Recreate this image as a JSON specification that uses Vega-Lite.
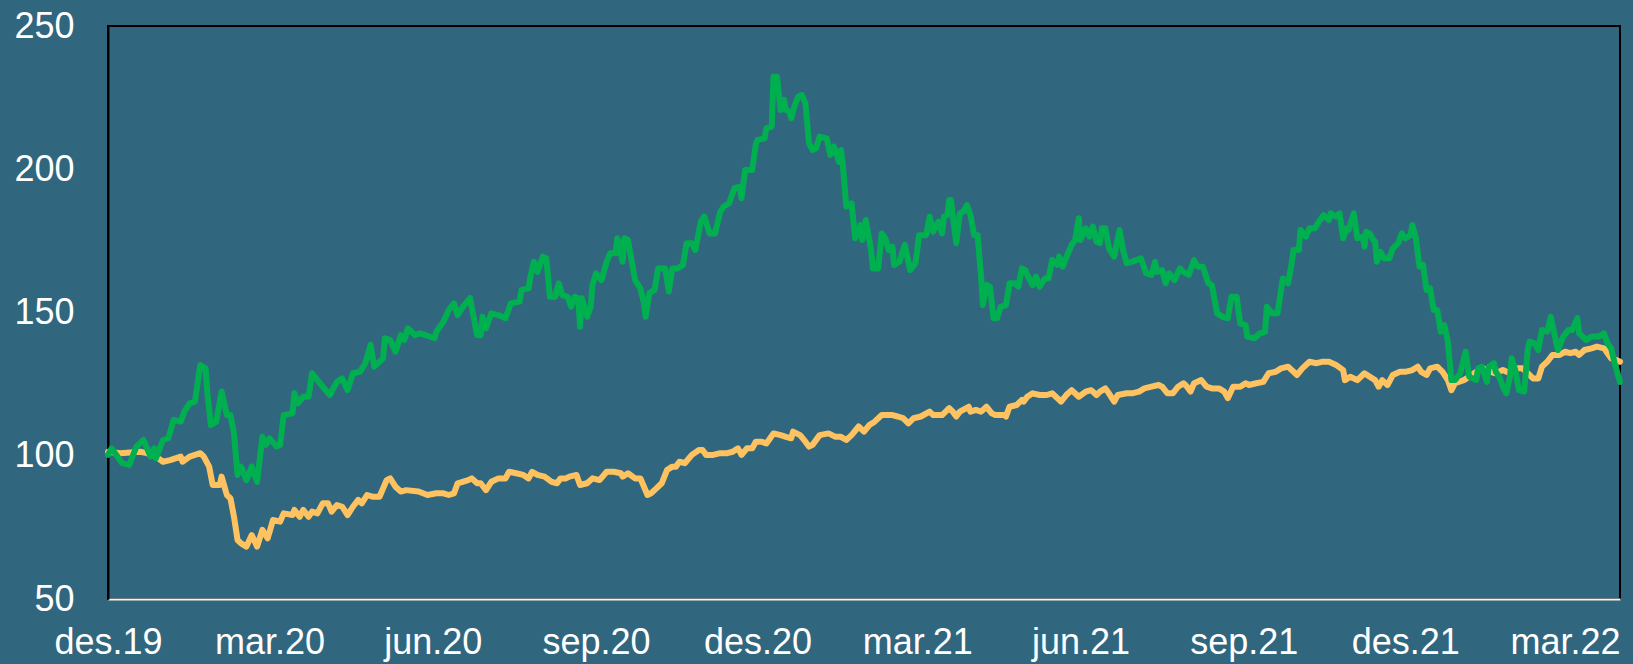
{
"$schema": "https://vega.github.io/schema/vega-lite/v6.json",
"width": 1512, "height": 573,
"autosize": {"type": "none"},
"padding": {"left": 108, "top": 26, "right": 13, "bottom": 65},
"background": "#31667F",
"config": {
  "view": {"stroke": "#000000", "strokeWidth": 2},
  "axis": {"labelFont": "Liberation Sans", "labelFontSize": 36, "labelColor": "#FFFFFF", "grid": false, "ticks": false, "title": null}
},
"datasets": {
"green": [
{"date":"2019-12-01","value":100.3},{"date":"2019-12-03","value":102.6},{"date":"2019-12-09","value":97.4},{"date":"2019-12-13","value":96.8},{"date":"2019-12-17","value":103.2},{"date":"2019-12-21","value":105.5},{"date":"2019-12-25","value":99.7},{"date":"2019-12-27","value":102.6},{"date":"2019-12-28","value":99.1},
{"date":"2020-01-01","value":105.5},{"date":"2020-01-04","value":106.1},{"date":"2020-01-07","value":112.5},{"date":"2020-01-11","value":111.9},{"date":"2020-01-13","value":115.4},{"date":"2020-01-16","value":118.3},{"date":"2020-01-19","value":118.9},{"date":"2020-01-22","value":131.7},{"date":"2020-01-25","value":130.5},{"date":"2020-01-26","value":121.8},{"date":"2020-01-28","value":110.7},{"date":"2020-01-31","value":111.9},
{"date":"2020-02-03","value":122.4},{"date":"2020-02-06","value":114.2},{"date":"2020-02-08","value":114.2},{"date":"2020-02-10","value":107.8},{"date":"2020-02-12","value":93.3},{"date":"2020-02-14","value":96.2},{"date":"2020-02-17","value":91.5},{"date":"2020-02-20","value":96.2},{"date":"2020-02-23","value":90.9},{"date":"2020-02-26","value":106.6},{"date":"2020-02-28","value":103.8},
{"date":"2020-03-01","value":106.1},{"date":"2020-03-05","value":103.2},{"date":"2020-03-07","value":103.8},{"date":"2020-03-09","value":114.2},{"date":"2020-03-14","value":114.8},{"date":"2020-03-15","value":121.8},{"date":"2020-03-17","value":118.3},{"date":"2020-03-20","value":120.6},{"date":"2020-03-23","value":120.6},{"date":"2020-03-25","value":128.8},{"date":"2020-03-28","value":126.4},{"date":"2020-03-31","value":124.1},
{"date":"2020-04-04","value":121.2},{"date":"2020-04-08","value":125.8},{"date":"2020-04-11","value":127.0},{"date":"2020-04-14","value":122.9},{"date":"2020-04-17","value":128.8},{"date":"2020-04-21","value":129.3},{"date":"2020-04-24","value":132.3},{"date":"2020-04-27","value":138.7},{"date":"2020-04-29","value":131.1},
{"date":"2020-05-04","value":134.0},{"date":"2020-05-05","value":141.0},{"date":"2020-05-08","value":140.4},{"date":"2020-05-11","value":136.3},{"date":"2020-05-14","value":142.1},{"date":"2020-05-16","value":140.4},{"date":"2020-05-18","value":144.5},{"date":"2020-05-22","value":142.1},{"date":"2020-05-25","value":142.7},
{"date":"2020-06-02","value":141.0},{"date":"2020-06-03","value":143.3},{"date":"2020-06-07","value":146.8},{"date":"2020-06-10","value":150.9},{"date":"2020-06-13","value":153.2},{"date":"2020-06-15","value":149.1},{"date":"2020-06-18","value":152.0},{"date":"2020-06-22","value":155.0},{"date":"2020-06-26","value":142.1},{"date":"2020-06-28","value":142.1},{"date":"2020-06-29","value":148.5},
{"date":"2020-07-01","value":144.5},{"date":"2020-07-04","value":149.7},{"date":"2020-07-08","value":149.1},{"date":"2020-07-12","value":148.0},{"date":"2020-07-15","value":153.2},{"date":"2020-07-20","value":153.8},{"date":"2020-07-21","value":157.9},{"date":"2020-07-25","value":158.4},{"date":"2020-07-26","value":162.5},{"date":"2020-07-28","value":167.7},{"date":"2020-07-30","value":164.2},
{"date":"2020-08-02","value":169.5},{"date":"2020-08-04","value":168.9},{"date":"2020-08-06","value":155.5},{"date":"2020-08-09","value":155.5},{"date":"2020-08-11","value":160.2},{"date":"2020-08-13","value":156.1},{"date":"2020-08-16","value":155.5},{"date":"2020-08-18","value":152.0},{"date":"2020-08-20","value":155.5},{"date":"2020-08-22","value":155.0},{"date":"2020-08-23","value":145.0},{"date":"2020-08-24","value":155.0},{"date":"2020-08-27","value":148.5},{"date":"2020-08-29","value":152.0},{"date":"2020-08-30","value":159.6},
{"date":"2020-09-01","value":163.7},{"date":"2020-09-04","value":161.3},{"date":"2020-09-07","value":167.7},{"date":"2020-09-09","value":170.7},{"date":"2020-09-12","value":170.7},{"date":"2020-09-13","value":175.9},{"date":"2020-09-16","value":167.7},{"date":"2020-09-17","value":175.9},{"date":"2020-09-19","value":175.3},{"date":"2020-09-23","value":161.3},{"date":"2020-09-26","value":158.4},{"date":"2020-09-28","value":153.2},{"date":"2020-09-29","value":148.5},
{"date":"2020-10-01","value":156.7},{"date":"2020-10-04","value":157.9},{"date":"2020-10-06","value":165.4},{"date":"2020-10-10","value":165.4},{"date":"2020-10-12","value":157.3},{"date":"2020-10-14","value":165.4},{"date":"2020-10-17","value":165.4},{"date":"2020-10-20","value":166.6},{"date":"2020-10-22","value":174.2},{"date":"2020-10-25","value":174.2},{"date":"2020-10-27","value":171.8},{"date":"2020-10-30","value":181.7},
{"date":"2020-11-01","value":183.5},{"date":"2020-11-04","value":177.6},{"date":"2020-11-07","value":177.6},{"date":"2020-11-10","value":185.2},{"date":"2020-11-12","value":187.0},{"date":"2020-11-15","value":188.1},{"date":"2020-11-18","value":193.4},{"date":"2020-11-21","value":193.9},{"date":"2020-11-22","value":189.9},{"date":"2020-11-24","value":199.7},{"date":"2020-11-28","value":199.7},{"date":"2020-11-30","value":208.5},
{"date":"2020-12-01","value":210.2},{"date":"2020-12-05","value":210.8},{"date":"2020-12-06","value":214.3},{"date":"2020-12-09","value":214.9},{"date":"2020-12-10","value":232.3},{"date":"2020-12-12","value":232.3},{"date":"2020-12-14","value":220.7},{"date":"2020-12-16","value":224.2},{"date":"2020-12-17","value":220.7},{"date":"2020-12-19","value":220.1},{"date":"2020-12-20","value":217.8},{"date":"2020-12-22","value":222.4},{"date":"2020-12-24","value":225.3},{"date":"2020-12-26","value":225.9},{"date":"2020-12-28","value":223.0},{"date":"2020-12-30","value":209.1},
{"date":"2021-01-01","value":206.7},{"date":"2021-01-03","value":207.3},{"date":"2021-01-05","value":211.4},{"date":"2021-01-09","value":210.8},{"date":"2021-01-11","value":205.0},{"date":"2021-01-13","value":207.9},{"date":"2021-01-16","value":202.6},{"date":"2021-01-17","value":206.7},{"date":"2021-01-18","value":202.1},{"date":"2021-01-20","value":187.0},{"date":"2021-01-23","value":188.1},{"date":"2021-01-25","value":175.9},{"date":"2021-01-28","value":180.5},{"date":"2021-01-29","value":175.3},{"date":"2021-01-31","value":182.3},
{"date":"2021-02-03","value":171.8},{"date":"2021-02-04","value":165.4},{"date":"2021-02-07","value":165.4},{"date":"2021-02-09","value":177.6},{"date":"2021-02-11","value":175.9},{"date":"2021-02-13","value":171.8},{"date":"2021-02-15","value":173.0},{"date":"2021-02-16","value":166.6},{"date":"2021-02-19","value":167.7},{"date":"2021-02-22","value":173.6},{"date":"2021-02-25","value":164.8},{"date":"2021-02-28","value":167.2},
{"date":"2021-03-01","value":171.8},{"date":"2021-03-02","value":177.0},{"date":"2021-03-06","value":177.0},{"date":"2021-03-08","value":183.4},{"date":"2021-03-10","value":178.2},{"date":"2021-03-13","value":181.7},{"date":"2021-03-15","value":177.6},{"date":"2021-03-16","value":183.4},{"date":"2021-03-18","value":184.0},{"date":"2021-03-19","value":189.3},{"date":"2021-03-20","value":189.3},{"date":"2021-03-21","value":184.0},{"date":"2021-03-23","value":174.2},{"date":"2021-03-25","value":184.6},{"date":"2021-03-27","value":185.2},{"date":"2021-03-29","value":187.5},{"date":"2021-03-31","value":184.0},
{"date":"2021-04-02","value":177.0},{"date":"2021-04-04","value":177.0},{"date":"2021-04-06","value":162.5},{"date":"2021-04-07","value":152.6},{"date":"2021-04-09","value":159.6},{"date":"2021-04-11","value":159.0},{"date":"2021-04-13","value":148.0},{"date":"2021-04-15","value":148.0},{"date":"2021-04-17","value":152.0},{"date":"2021-04-20","value":152.6},{"date":"2021-04-22","value":160.2},{"date":"2021-04-25","value":160.2},{"date":"2021-04-27","value":159.0},{"date":"2021-04-29","value":165.4},
{"date":"2021-05-01","value":164.8},{"date":"2021-05-02","value":163.1},{"date":"2021-05-05","value":159.6},{"date":"2021-05-07","value":162.5},{"date":"2021-05-09","value":159.0},{"date":"2021-05-12","value":161.9},{"date":"2021-05-14","value":161.9},{"date":"2021-05-16","value":168.3},{"date":"2021-05-19","value":166.6},{"date":"2021-05-20","value":169.5},{"date":"2021-05-22","value":166.0},{"date":"2021-05-25","value":170.7},{"date":"2021-05-27","value":173.6},{"date":"2021-05-29","value":175.3},{"date":"2021-05-31","value":182.9},
{"date":"2021-06-01","value":175.3},{"date":"2021-06-04","value":179.4},{"date":"2021-06-06","value":176.5},{"date":"2021-06-08","value":180.0},{"date":"2021-06-10","value":174.7},{"date":"2021-06-12","value":174.2},{"date":"2021-06-13","value":179.4},{"date":"2021-06-15","value":179.4},{"date":"2021-06-17","value":172.4},{"date":"2021-06-20","value":169.5},{"date":"2021-06-23","value":178.8},{"date":"2021-06-25","value":171.8},{"date":"2021-06-27","value":167.2},{"date":"2021-06-30","value":167.7},
{"date":"2021-07-05","value":168.9},{"date":"2021-07-08","value":163.7},{"date":"2021-07-11","value":163.1},{"date":"2021-07-13","value":167.7},{"date":"2021-07-14","value":164.2},{"date":"2021-07-17","value":164.8},{"date":"2021-07-19","value":160.2},{"date":"2021-07-21","value":163.7},{"date":"2021-07-24","value":161.3},{"date":"2021-07-27","value":165.4},{"date":"2021-07-29","value":164.2},
{"date":"2021-08-01","value":163.1},{"date":"2021-08-04","value":168.3},{"date":"2021-08-06","value":166.0},{"date":"2021-08-09","value":166.0},{"date":"2021-08-12","value":160.2},{"date":"2021-08-14","value":159.6},{"date":"2021-08-17","value":149.7},{"date":"2021-08-20","value":148.5},{"date":"2021-08-23","value":148.0},{"date":"2021-08-25","value":155.5},{"date":"2021-08-28","value":155.5},{"date":"2021-08-30","value":146.2},
{"date":"2021-09-02","value":145.6},{"date":"2021-09-03","value":141.6},{"date":"2021-09-07","value":141.0},{"date":"2021-09-10","value":142.7},{"date":"2021-09-13","value":143.3},{"date":"2021-09-14","value":152.0},{"date":"2021-09-17","value":149.7},{"date":"2021-09-20","value":149.7},{"date":"2021-09-23","value":161.9},{"date":"2021-09-26","value":160.2},{"date":"2021-09-28","value":167.2},{"date":"2021-09-29","value":171.8},
{"date":"2021-10-02","value":171.8},{"date":"2021-10-03","value":178.8},{"date":"2021-10-06","value":176.5},{"date":"2021-10-08","value":179.4},{"date":"2021-10-11","value":179.4},{"date":"2021-10-14","value":182.3},{"date":"2021-10-16","value":184.0},{"date":"2021-10-19","value":182.3},{"date":"2021-10-20","value":184.6},{"date":"2021-10-23","value":183.5},{"date":"2021-10-25","value":184.6},{"date":"2021-10-27","value":175.9},{"date":"2021-10-29","value":179.4},{"date":"2021-10-30","value":178.8},
{"date":"2021-11-02","value":184.6},{"date":"2021-11-04","value":175.9},{"date":"2021-11-07","value":176.5},{"date":"2021-11-08","value":173.0},{"date":"2021-11-09","value":178.2},{"date":"2021-11-11","value":177.6},{"date":"2021-11-13","value":175.3},{"date":"2021-11-14","value":174.7},{"date":"2021-11-15","value":167.7},{"date":"2021-11-17","value":171.2},{"date":"2021-11-19","value":168.9},{"date":"2021-11-22","value":168.9},{"date":"2021-11-24","value":172.4},{"date":"2021-11-27","value":174.2},{"date":"2021-11-29","value":177.6},
{"date":"2021-12-01","value":175.9},{"date":"2021-12-04","value":177.0},{"date":"2021-12-05","value":180.5},{"date":"2021-12-07","value":175.9},{"date":"2021-12-09","value":166.0},{"date":"2021-12-11","value":166.6},{"date":"2021-12-13","value":157.9},{"date":"2021-12-15","value":158.4},{"date":"2021-12-17","value":150.9},{"date":"2021-12-19","value":150.9},{"date":"2021-12-21","value":143.3},{"date":"2021-12-23","value":145.6},{"date":"2021-12-25","value":139.8},{"date":"2021-12-26","value":133.4},{"date":"2021-12-27","value":126.4},{"date":"2021-12-29","value":126.4},
{"date":"2022-01-01","value":128.8},{"date":"2022-01-04","value":136.3},{"date":"2022-01-06","value":127.6},{"date":"2022-01-10","value":126.4},{"date":"2022-01-11","value":130.5},{"date":"2022-01-13","value":131.1},{"date":"2022-01-15","value":127.6},{"date":"2022-01-16","value":125.8},{"date":"2022-01-17","value":131.1},{"date":"2022-01-20","value":132.3},{"date":"2022-01-21","value":129.3},{"date":"2022-01-23","value":127.6},{"date":"2022-01-25","value":124.1},{"date":"2022-01-27","value":121.8},{"date":"2022-01-29","value":127.6},{"date":"2022-01-30","value":134.0},
{"date":"2022-02-01","value":129.9},{"date":"2022-02-03","value":122.9},{"date":"2022-02-06","value":122.4},{"date":"2022-02-08","value":136.9},{"date":"2022-02-09","value":139.8},{"date":"2022-02-12","value":139.2},{"date":"2022-02-14","value":136.9},{"date":"2022-02-16","value":143.9},{"date":"2022-02-19","value":143.3},{"date":"2022-02-21","value":148.5},{"date":"2022-02-23","value":142.7},{"date":"2022-02-25","value":136.9},{"date":"2022-02-28","value":141.6},
{"date":"2022-03-03","value":143.9},{"date":"2022-03-05","value":143.9},{"date":"2022-03-08","value":148.0},{"date":"2022-03-09","value":142.7},{"date":"2022-03-13","value":140.4},{"date":"2022-03-16","value":141.6},{"date":"2022-03-20","value":141.6},{"date":"2022-03-23","value":142.7},{"date":"2022-03-25","value":139.2},{"date":"2022-03-27","value":137.5},{"date":"2022-03-29","value":132.3},{"date":"2022-04-01","value":125.8}
],
"yellow": [
{"date":"2019-12-01","value":101.4},{"date":"2019-12-08","value":100.9},{"date":"2019-12-19","value":101.4},{"date":"2019-12-23","value":100.9},{"date":"2019-12-28","value":99.7},
{"date":"2020-01-01","value":97.9},{"date":"2020-01-05","value":98.5},{"date":"2020-01-11","value":99.7},{"date":"2020-01-12","value":97.9},{"date":"2020-01-16","value":99.7},{"date":"2020-01-22","value":100.9},{"date":"2020-01-24","value":99.7},{"date":"2020-01-27","value":96.2},{"date":"2020-01-29","value":89.8},
{"date":"2020-02-02","value":89.8},{"date":"2020-02-03","value":92.7},{"date":"2020-02-06","value":86.3},{"date":"2020-02-08","value":85.1},{"date":"2020-02-10","value":78.7},{"date":"2020-02-12","value":70.6},{"date":"2020-02-14","value":69.4},{"date":"2020-02-17","value":68.3},{"date":"2020-02-20","value":72.3},{"date":"2020-02-23","value":68.3},{"date":"2020-02-26","value":74.1},{"date":"2020-02-29","value":71.2},
{"date":"2020-03-03","value":77.6},{"date":"2020-03-07","value":77.0},{"date":"2020-03-09","value":79.9},{"date":"2020-03-14","value":79.3},{"date":"2020-03-15","value":81.1},{"date":"2020-03-18","value":78.7},{"date":"2020-03-20","value":81.1},{"date":"2020-03-23","value":78.7},{"date":"2020-03-25","value":80.5},{"date":"2020-03-28","value":79.9},{"date":"2020-03-31","value":83.4},
{"date":"2020-04-03","value":83.4},{"date":"2020-04-05","value":80.5},{"date":"2020-04-08","value":82.8},{"date":"2020-04-11","value":82.2},{"date":"2020-04-14","value":79.3},{"date":"2020-04-17","value":82.2},{"date":"2020-04-20","value":84.6},{"date":"2020-04-22","value":83.4},{"date":"2020-04-25","value":86.3},{"date":"2020-04-28","value":85.7},
{"date":"2020-05-02","value":85.7},{"date":"2020-05-06","value":91.5},{"date":"2020-05-08","value":92.1},{"date":"2020-05-11","value":89.2},{"date":"2020-05-14","value":87.5},{"date":"2020-05-17","value":88.0},{"date":"2020-05-24","value":87.5},{"date":"2020-05-29","value":86.3},
{"date":"2020-06-03","value":86.9},{"date":"2020-06-07","value":86.9},{"date":"2020-06-10","value":86.3},{"date":"2020-06-13","value":86.9},{"date":"2020-06-15","value":90.4},{"date":"2020-06-21","value":91.5},{"date":"2020-06-23","value":92.1},{"date":"2020-06-26","value":90.4},{"date":"2020-06-28","value":90.4},
{"date":"2020-07-01","value":88.0},{"date":"2020-07-04","value":90.9},{"date":"2020-07-08","value":92.1},{"date":"2020-07-12","value":92.1},{"date":"2020-07-14","value":94.4},{"date":"2020-07-18","value":93.9},{"date":"2020-07-22","value":93.3},{"date":"2020-07-25","value":92.1},{"date":"2020-07-27","value":94.4},{"date":"2020-07-30","value":93.3},
{"date":"2020-08-03","value":92.7},{"date":"2020-08-07","value":90.9},{"date":"2020-08-10","value":90.4},{"date":"2020-08-12","value":92.1},{"date":"2020-08-15","value":92.1},{"date":"2020-08-17","value":92.7},{"date":"2020-08-21","value":93.3},{"date":"2020-08-23","value":89.8},{"date":"2020-08-27","value":90.4},{"date":"2020-08-30","value":92.1},
{"date":"2020-09-03","value":91.5},{"date":"2020-09-07","value":94.4},{"date":"2020-09-11","value":94.4},{"date":"2020-09-15","value":93.9},{"date":"2020-09-16","value":92.7},{"date":"2020-09-19","value":93.9},{"date":"2020-09-23","value":92.1},{"date":"2020-09-26","value":92.1},{"date":"2020-09-28","value":89.2},{"date":"2020-09-30","value":86.3},
{"date":"2020-10-02","value":86.9},{"date":"2020-10-05","value":88.6},{"date":"2020-10-08","value":90.4},{"date":"2020-10-11","value":95.0},{"date":"2020-10-14","value":96.2},{"date":"2020-10-16","value":96.2},{"date":"2020-10-18","value":97.9},{"date":"2020-10-21","value":97.4},{"date":"2020-10-25","value":100.3},{"date":"2020-10-29","value":102.0},{"date":"2020-10-31","value":102.0},
{"date":"2020-11-02","value":100.3},{"date":"2020-11-06","value":100.3},{"date":"2020-11-10","value":100.9},{"date":"2020-11-14","value":100.9},{"date":"2020-11-17","value":101.4},{"date":"2020-11-20","value":102.6},{"date":"2020-11-22","value":100.3},{"date":"2020-11-25","value":102.6},{"date":"2020-11-28","value":102.6},{"date":"2020-11-30","value":104.9},
{"date":"2020-12-03","value":104.9},{"date":"2020-12-06","value":104.3},{"date":"2020-12-10","value":107.8},{"date":"2020-12-14","value":107.2},{"date":"2020-12-17","value":106.6},{"date":"2020-12-20","value":106.1},{"date":"2020-12-21","value":108.4},{"date":"2020-12-25","value":107.2},{"date":"2020-12-28","value":104.9},{"date":"2020-12-30","value":103.2},
{"date":"2021-01-01","value":103.8},{"date":"2021-01-05","value":107.2},{"date":"2021-01-10","value":107.8},{"date":"2021-01-14","value":106.6},{"date":"2021-01-17","value":106.6},{"date":"2021-01-20","value":105.5},{"date":"2021-01-23","value":107.2},{"date":"2021-01-27","value":110.2},{"date":"2021-01-30","value":108.4},
{"date":"2021-02-02","value":110.7},{"date":"2021-02-05","value":111.9},{"date":"2021-02-09","value":114.2},{"date":"2021-02-15","value":114.2},{"date":"2021-02-18","value":113.7},{"date":"2021-02-21","value":113.1},{"date":"2021-02-24","value":111.3},{"date":"2021-02-27","value":113.1},
{"date":"2021-03-03","value":113.7},{"date":"2021-03-08","value":115.4},{"date":"2021-03-10","value":114.2},{"date":"2021-03-15","value":114.2},{"date":"2021-03-19","value":116.6},{"date":"2021-03-21","value":115.4},{"date":"2021-03-23","value":113.7},{"date":"2021-03-25","value":115.4},{"date":"2021-03-30","value":117.1},{"date":"2021-03-31","value":115.4},
{"date":"2021-04-03","value":116.0},{"date":"2021-04-06","value":115.4},{"date":"2021-04-09","value":117.1},{"date":"2021-04-12","value":114.8},{"date":"2021-04-14","value":114.2},{"date":"2021-04-19","value":114.2},{"date":"2021-04-20","value":113.7},{"date":"2021-04-22","value":117.1},{"date":"2021-04-26","value":117.7},{"date":"2021-04-29","value":119.5},{"date":"2021-04-30","value":118.9},
{"date":"2021-05-02","value":120.6},{"date":"2021-05-05","value":121.8},{"date":"2021-05-09","value":121.2},{"date":"2021-05-13","value":121.2},{"date":"2021-05-16","value":121.8},{"date":"2021-05-19","value":120.1},{"date":"2021-05-21","value":118.9},{"date":"2021-05-24","value":121.2},{"date":"2021-05-27","value":122.9},{"date":"2021-05-31","value":120.6},
{"date":"2021-06-04","value":122.4},{"date":"2021-06-07","value":122.9},{"date":"2021-06-10","value":121.2},{"date":"2021-06-12","value":122.4},{"date":"2021-06-15","value":123.5},{"date":"2021-06-17","value":121.8},{"date":"2021-06-20","value":118.9},{"date":"2021-06-22","value":121.2},{"date":"2021-06-27","value":121.8},{"date":"2021-06-30","value":121.8},
{"date":"2021-07-04","value":122.4},{"date":"2021-07-07","value":123.5},{"date":"2021-07-11","value":124.1},{"date":"2021-07-15","value":124.7},{"date":"2021-07-17","value":124.1},{"date":"2021-07-20","value":121.8},{"date":"2021-07-23","value":121.8},{"date":"2021-07-26","value":124.1},{"date":"2021-07-29","value":125.3},{"date":"2021-07-31","value":124.1},
{"date":"2021-08-02","value":122.4},{"date":"2021-08-04","value":125.3},{"date":"2021-08-08","value":126.4},{"date":"2021-08-11","value":124.1},{"date":"2021-08-14","value":123.5},{"date":"2021-08-18","value":123.5},{"date":"2021-08-21","value":122.4},{"date":"2021-08-23","value":120.1},{"date":"2021-08-26","value":124.1},{"date":"2021-08-30","value":124.1},
{"date":"2021-09-02","value":125.3},{"date":"2021-09-04","value":124.7},{"date":"2021-09-08","value":125.3},{"date":"2021-09-12","value":125.8},{"date":"2021-09-15","value":128.8},{"date":"2021-09-19","value":129.3},{"date":"2021-09-22","value":130.5},{"date":"2021-09-26","value":131.1},{"date":"2021-09-28","value":129.9},
{"date":"2021-10-01","value":128.2},{"date":"2021-10-04","value":130.5},{"date":"2021-10-08","value":132.8},{"date":"2021-10-12","value":132.3},{"date":"2021-10-15","value":132.8},{"date":"2021-10-19","value":132.8},{"date":"2021-10-23","value":131.7},{"date":"2021-10-27","value":129.9},{"date":"2021-10-28","value":126.4},{"date":"2021-10-31","value":127.6},
{"date":"2021-11-04","value":126.4},{"date":"2021-11-08","value":128.8},{"date":"2021-11-11","value":127.6},{"date":"2021-11-14","value":126.4},{"date":"2021-11-16","value":124.1},{"date":"2021-11-18","value":126.4},{"date":"2021-11-21","value":124.7},{"date":"2021-11-24","value":128.2},{"date":"2021-11-28","value":129.3},
{"date":"2021-12-01","value":129.3},{"date":"2021-12-05","value":129.9},{"date":"2021-12-08","value":131.1},{"date":"2021-12-10","value":129.3},{"date":"2021-12-13","value":128.2},{"date":"2021-12-15","value":130.5},{"date":"2021-12-19","value":131.1},{"date":"2021-12-22","value":129.3},{"date":"2021-12-25","value":126.4},{"date":"2021-12-27","value":122.9},{"date":"2021-12-29","value":125.3},
{"date":"2022-01-03","value":126.4},{"date":"2022-01-06","value":127.6},{"date":"2022-01-10","value":129.3},{"date":"2022-01-14","value":130.5},{"date":"2022-01-18","value":129.3},{"date":"2022-01-21","value":128.8},{"date":"2022-01-25","value":129.9},{"date":"2022-01-29","value":128.8},
{"date":"2022-02-01","value":130.5},{"date":"2022-02-05","value":130.5},{"date":"2022-02-08","value":128.8},{"date":"2022-02-11","value":127.0},{"date":"2022-02-14","value":127.0},{"date":"2022-02-16","value":131.1},{"date":"2022-02-19","value":132.8},{"date":"2022-02-22","value":135.2},{"date":"2022-02-26","value":135.2},
{"date":"2022-03-01","value":136.3},{"date":"2022-03-04","value":135.8},{"date":"2022-03-07","value":136.3},{"date":"2022-03-09","value":135.2},{"date":"2022-03-12","value":136.9},{"date":"2022-03-16","value":137.5},{"date":"2022-03-19","value":138.1},{"date":"2022-03-23","value":137.5},{"date":"2022-03-25","value":135.8},{"date":"2022-03-27","value":134.0},{"date":"2022-03-30","value":133.4},{"date":"2022-04-01","value":132.8}
]
},
"encoding": {
  "x": {"field": "date", "type": "temporal",
    "scale": {"type": "utc", "domain": [{"year": 2019, "month": 12, "date": 1, "utc": true}, {"year": 2022, "month": 4, "date": 1, "utc": true}]},
    "axis": {
      "values": [
        {"year": 2019, "month": 12, "date": 1, "utc": true},
        {"year": 2020, "month": 3, "date": 1, "utc": true},
        {"year": 2020, "month": 6, "date": 1, "utc": true},
        {"year": 2020, "month": 9, "date": 1, "utc": true},
        {"year": 2020, "month": 12, "date": 1, "utc": true},
        {"year": 2021, "month": 3, "date": 1, "utc": true},
        {"year": 2021, "month": 6, "date": 1, "utc": true},
        {"year": 2021, "month": 9, "date": 1, "utc": true},
        {"year": 2021, "month": 12, "date": 1, "utc": true},
        {"year": 2022, "month": 3, "date": 1, "utc": true}
      ],
      "labelExpr": "['jan','feb','mar','apr','mai','jun','jul','aug','sep','okt','nov','des'][utcmonth(datum.value)] + '.' + utcFormat(datum.value, '%y')",
      "domainColor": "#F2F2F2", "domainWidth": 2, "labelPadding": 26,
      "labelFlush": false, "labelOverlap": false, "labelBound": false, "title": null
    }
  },
  "y": {"field": "value", "type": "quantitative",
    "scale": {"domain": [50, 250], "nice": false, "zero": false},
    "axis": {"values": [50, 100, 150, 200, 250], "domainColor": "#000000", "domainWidth": 2, "labelPadding": 34, "title": null}
  }
},
"layer": [
  {"data": {"name": "yellow"}, "mark": {"type": "line", "color": "#FFC260", "strokeWidth": 6, "strokeJoin": "round", "strokeCap": "round"}},
  {"data": {"name": "green"}, "mark": {"type": "line", "color": "#00B050", "strokeWidth": 6, "strokeJoin": "round", "strokeCap": "round"}}
]
}
